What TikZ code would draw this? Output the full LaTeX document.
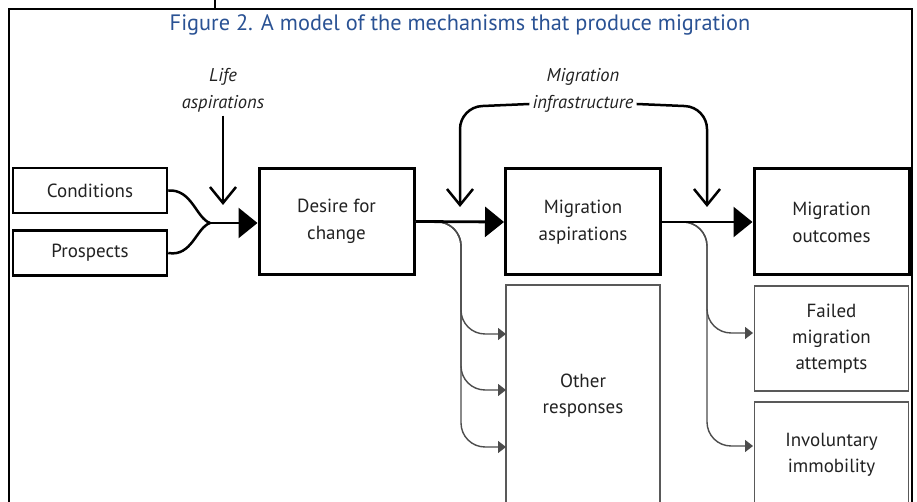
\documentclass[tikz,border=0pt]{standalone}
\usepackage{fontspec}
\setmainfont{PT Sans}
\usetikzlibrary{arrows.meta}
\definecolor{titleblue}{RGB}{42,82,148}
\definecolor{txt}{RGB}{34,34,34}
\begin{document}
\begin{tikzpicture}[x=1pt,y=1pt,
  thickbox/.style={draw, line width=3pt, minimum width=155pt, minimum height=106pt, align=center, inner sep=0pt, text=txt, font=\fontsize{19}{27}\selectfont},
  smallbox/.style={draw, line width=2.5pt, minimum width=154pt, minimum height=45pt, align=center, inner sep=0pt, text=txt, font=\fontsize{19}{27}\selectfont},
  thinbox/.style={draw=black!65, line width=1.3pt, minimum width=154pt, align=center, inner sep=0pt, text=txt, font=\fontsize{19}{26}\selectfont},
  lab/.style={font=\fontsize{18.5}{22}\selectfont\itshape, inner sep=3pt, text=txt},
  bigarrow/.style={line width=2.8pt, -{Triangle[length=19pt,width=30pt]}},
  vee/.style={line width=2.5pt, -{Straight Barb[length=16pt,width=26pt]}},
  branch/.style={draw=black!70, line width=1.4pt, rounded corners=24pt, -{Triangle[length=8pt,width=12pt]}},
  framestyle/.style={line width=2.5pt, line cap=rect}
]
\fill[white] (0,0) rectangle (917,502);
\useasboundingbox (0,0) rectangle (917,502);
% title
\node[text=titleblue, font=\fontsize{22.3}{26}\selectfont] (title) at (460,477) {Figure 2. A model of the mechanisms that produce migration};
% boxes
\node[smallbox] (cond) at (90,311.5) {Conditions};
\node[smallbox] (pros) at (90,249) {Prospects};
\node[thickbox] (desire) at (336.5,280.5) {Desire for\\change};
\node[thickbox] (masp) at (583,280) {Migration\\aspirations};
\node[thickbox] (mout) at (831.5,280) {Migration\\outcomes};
\node[thinbox, minimum height=222pt] (other) at (583,106) {Other\\responses};
\node[thinbox, minimum height=105pt] (fail) at (831.5,163.5) {Failed\\migration\\attempts};
\node[thinbox, minimum height=106pt] (invol) at (831.5,47) {Involuntary\\immobility};
% labels
\node[lab] (life1) at (223,425) {Life};
\node[lab] (life2) at (223,398) {aspirations};
\node[lab] (inf1) at (583,425) {Migration};
\node[lab] (inf2) at (583,398) {infrastructure};
% coordinates
\coordinate (merge) at (210,279);
\coordinate (lifetip) at (223,297);
\coordinate (inftipL) at (460,295);
\coordinate (inftipR) at (707,295);
\coordinate (o1) at (506,168);
\coordinate (o2) at (506,112);
\coordinate (o3) at (506,55);
\coordinate (f1) at (753,169);
\coordinate (i1) at (753,56);
% merge curves
\draw[line width=2.5pt] (cond.east) .. controls (192,313) and (196,284) .. (merge);
\draw[line width=2.5pt] (pros.east) .. controls (192,245) and (196,274) .. (merge);
\draw[bigarrow] (merge) -- (desire.west |- merge);
\draw[vee] (life2.south) -- (lifetip);
% branches
\draw[branch] (desire.east) -- (461,280) -- (461,168) -- (o1);
\draw[branch] (desire.east) -- (461,280) -- (461,112) -- (o2);
\draw[branch] (desire.east) -- (461,280) -- (461,55) -- (o3);
\draw[branch] (masp.east) -- (707,280) -- (707,169) -- (f1);
\draw[branch] (masp.east) -- (707,280) -- (707,56) -- (i1);
% main arrows
\draw[bigarrow] (desire.east) -- (masp.west);
\draw[bigarrow] (masp.east) -- (mout.west);
% infrastructure arrows
\draw[vee, rounded corners=22pt] (inf2.west) -- (460,395) -- (inftipL);
\draw[vee, rounded corners=22pt] (inf2.east) -- (707,395) -- (inftipR);
% frame, drawn last
\draw[framestyle] (9,0) -- (9,493) -- (912,493) -- (912,0);
\draw[framestyle] (215,493) -- (215,502);
\end{tikzpicture}
\end{document}
